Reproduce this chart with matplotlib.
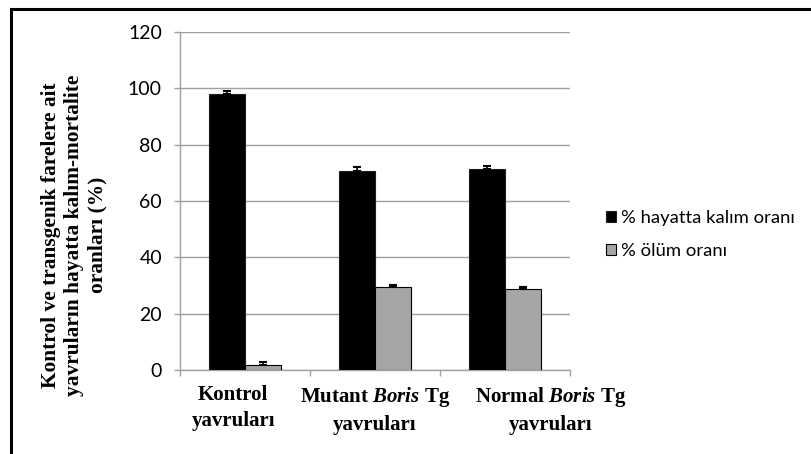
import matplotlib
matplotlib.use("Agg")
import matplotlib.pyplot as plt
import numpy as np
from matplotlib.patches import Patch
from matplotlib.lines import Line2D

plt.rcParams['mathtext.fontset'] = 'custom'
plt.rcParams['mathtext.rm'] = 'Liberation Serif:bold'
plt.rcParams['mathtext.it'] = 'Liberation Serif:bold:italic'
plt.rcParams['mathtext.bf'] = 'Liberation Serif:bold'

categories = ["Kontrol\nyavruları", "Mutant $Boris$ Tg\nyavruları", "Normal $Boris$ Tg\nyavruları"]
label_shift = [-0.09, 0.0, 0.35]
survival = [98.0, 70.7, 71.3]
survival_err = [1.1, 1.2, 1.2]
death = [1.8, 29.5, 28.6]
death_err = [1.1, 0.8, 1.0]
series_names = ["% hayatta kalım oranı", "% ölüm oranı"]
yticks = [0, 20, 40, 60, 80, 100, 120]

fig = plt.figure(figsize=(8.12, 4.54), dpi=100)
ax = fig.add_axes([180/812, 1-370/454, 390/812, 338/454])

x = np.arange(len(categories))
w = 0.277
grid_c = "#a0a0a0"

ax.bar(x - w/2, survival, w, color="black", edgecolor="#202020", linewidth=0.8, zorder=3)
ax.bar(x + w/2, death, w, color="#a6a6a6", edgecolor="black", linewidth=0.8, zorder=3)
zeros = [0]*len(x)
ax.errorbar(x - w/2, survival, yerr=[zeros, survival_err], fmt="none", ecolor="black",
            elinewidth=1.2, capsize=3, capthick=1.5, zorder=4)
ax.errorbar(x + w/2, death, yerr=[zeros, death_err], fmt="none", ecolor="black",
            elinewidth=1.2, capsize=3, capthick=1.5, zorder=4)

ax.set_xlim(-0.5, 2.5)
ax.set_ylim(0, 120)
ax.set_yticks(yticks)
ax.set_yticklabels([str(t) for t in yticks], fontfamily="Lato", fontsize=14)
ax.yaxis.grid(True, color=grid_c, linewidth=1.0, zorder=0)
ax.tick_params(axis="y", length=4, color=grid_c, width=1.0, pad=9)
ax.set_xticks([-0.5, 0.5, 1.5, 2.5])
ax.set_xticklabels([])
ax.tick_params(axis="x", length=4, color=grid_c, width=1.0, direction="out")
for s in ["top", "right"]:
    ax.spines[s].set_visible(False)
for s in ["left", "bottom"]:
    ax.spines[s].set_color(grid_c)
    ax.spines[s].set_linewidth(1.0)

for xi, lab, sh in zip(x, categories, label_shift):
    ax.text(xi + sh, -0.045, lab, transform=ax.get_xaxis_transform(), ha="center", va="top",
            fontfamily="Liberation Serif", fontweight="bold", fontsize=15, linespacing=1.4)

fig.text(74/812, 1-235/454,
         "Kontrol ve transgenik farelere ait\nyavruların hayatta kalım-mortalite\noranları (%)",
         rotation=90, ha="center", va="center", fontfamily="Liberation Serif",
         fontweight="bold", fontsize=15.4, linespacing=1.2)

handles = [Patch(facecolor="black", edgecolor="#202020", linewidth=0.8),
           Patch(facecolor="#a6a6a6", edgecolor="black", linewidth=0.8)]
fig.legend(handles, series_names, loc="upper left", bbox_to_anchor=(589/812, 1-193/454),
           frameon=False, handlelength=0.55, handleheight=0.55, handletextpad=0.3,
           labelspacing=0.95, prop={"family": "Lato", "size": 13.3})

# frame lines along the top and left edges
fig.add_artist(Line2D([11/812, 1.0], [1-9/454, 1-9/454], transform=fig.transFigure,
                      color="black", linewidth=2.2))
fig.add_artist(Line2D([11.5/812, 11.5/812], [0, 1-9/454], transform=fig.transFigure,
                      color="black", linewidth=2.2))

fig.savefig("out.png", dpi=100)
